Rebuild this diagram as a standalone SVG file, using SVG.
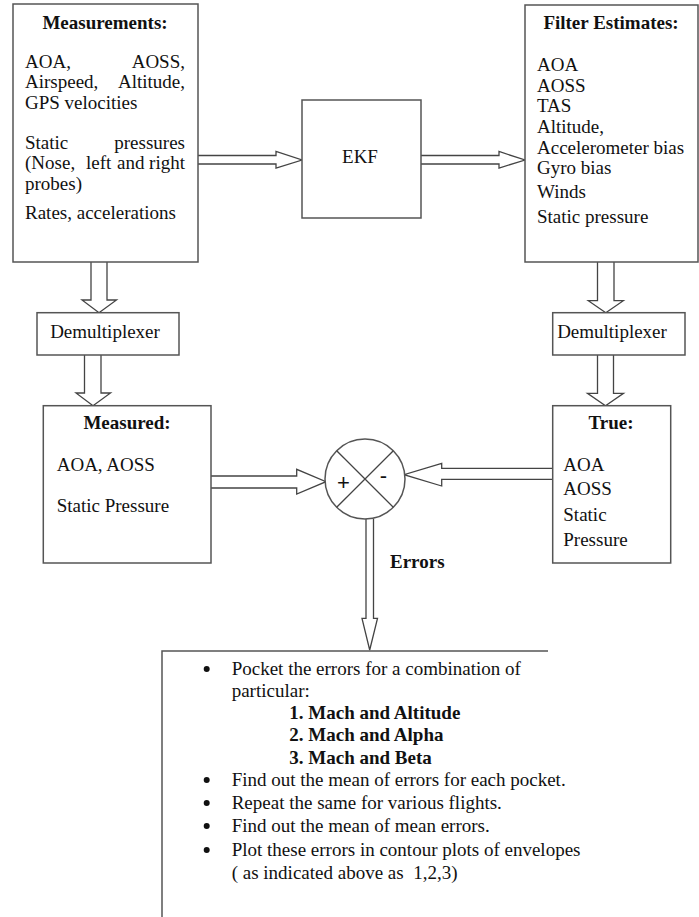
<svg xmlns="http://www.w3.org/2000/svg" width="699" height="917" viewBox="0 0 699 917">
<style>
.box{fill:#fff;stroke:#555;stroke-width:1.5}
.arr{fill:#fff;stroke:#444;stroke-width:1.3;stroke-linejoin:miter}
.ln{fill:none;stroke:#444;stroke-width:1.3}
text{font-family:"Liberation Serif","Times New Roman",serif;font-size:19px;fill:#111}
.b{font-weight:bold}
.c{text-anchor:middle}
.e{text-anchor:end}
.pm{font-family:"Liberation Sans",Arial,sans-serif;font-size:22px}
</style>
<rect width="699" height="917" fill="#fff"/>
<g id="connectors">
<path class="arr" d="M198,155.5 H276 V151.5 L302,160 L276,168 V164 H198"/>
<path class="arr" d="M421,155.5 H499 V151.5 L525,160 L499,168 V164 H421"/>
<path class="arr" d="M91,262 V300 H82 L99,312.7 L116.5,300 H107 V262"/>
<path class="arr" d="M84.5,355 V393 H76 L93,405.7 L110.5,393 H101 V355"/>
<path class="arr" d="M597.5,262 V300.7 H588.3 L605.8,312.7 L623.3,300.7 H614 V262"/>
<path class="arr" d="M597.5,355 V393.3 H587.5 L605.5,405.7 L623.5,393.3 H613.5 V355"/>
<path class="arr" d="M211,476 H296.7 V469.3 L326,481.7 L296.7,494 V488 H211"/>
<path class="arr" d="M552.7,468.3 H441.7 V463.3 L404,474.7 L441.7,486 V479.3 H552.7"/>
<path class="arr" d="M366,519 V618.3 H362 L369.7,650 L377.5,618.3 H373.5 V519"/>
</g>
<g id="measurements">
<rect class="box" x="13" y="4" width="185" height="258"/>
<text class="b c" x="105" y="28.5">Measurements:</text>
<text x="25" y="67.5">AOA,</text><text class="e" x="185" y="67.5">AOSS,</text>
<text x="25" y="88">Airspeed,</text><text class="e" x="185" y="88">Altitude,</text>
<text x="25" y="108.5">GPS velocities</text>
<text x="25" y="148.5">Static</text><text class="e" x="185" y="148.5">pressures</text>
<text x="25" y="169">(Nose,</text><text x="86" y="169">left</text><text x="117" y="169">and</text><text class="e" x="185" y="169">right</text>
<text x="25" y="190">probes)</text>
<text x="25" y="219">Rates, accelerations</text>
</g>
<g id="ekf">
<rect class="box" x="302" y="100" width="119" height="118"/>
<text class="c" x="360" y="163">EKF</text>
</g>
<g id="filter">
<rect class="box" x="525" y="5" width="173" height="257"/>
<text class="b c" x="611" y="29">Filter Estimates:</text>
<text x="537" y="71">AOA</text>
<text x="537" y="92">AOSS</text>
<text x="537" y="112">TAS</text>
<text x="537" y="132.5">Altitude,</text>
<text x="537" y="154">Accelerometer bias</text>
<text x="537" y="174">Gyro bias</text>
<text x="537" y="197.5">Winds</text>
<text x="537" y="223">Static pressure</text>
</g>
<g id="demux-left">
<rect class="box" x="37" y="312.7" width="142" height="42.3"/>
<text class="c" x="105" y="337.5">Demultiplexer</text>
</g>
<g id="demux-right">
<rect class="box" x="552.7" y="312.7" width="132.3" height="42.3"/>
<text class="c" x="612" y="337.5">Demultiplexer</text>
</g>
<g id="measured">
<rect class="box" x="43.3" y="405.7" width="167.7" height="157.3"/>
<text class="b c" x="127" y="429">Measured:</text>
<text x="56.7" y="471">AOA, AOSS</text>
<text x="56.7" y="512">Static Pressure</text>
</g>
<g id="true">
<rect class="box" x="552.7" y="405.7" width="118" height="157.3"/>
<text class="b c" x="611" y="429">True:</text>
<text x="563.3" y="471">AOA</text>
<text x="563.3" y="495">AOSS</text>
<text x="563.3" y="521">Static</text>
<text x="563.3" y="546">Pressure</text>
</g>
<g id="sum">
<circle class="box" cx="365" cy="479" r="40"/>
<path class="ln" d="M336.7,450.7 L393.3,507.3 M393.3,450.7 L336.7,507.3"/>
<text class="c pm" x="343.5" y="490">+</text>
<text class="c pm" x="383.5" y="483">-</text>
</g>
<text id="errors-label" class="b" x="390" y="567.5">Errors</text>
<g id="steps">
<path class="box" d="M162,917 V651 H548"/>
<circle cx="206.7" cy="669" r="3" fill="#111"/>
<text x="231.7" y="675">Pocket the errors for a combination of</text>
<text x="231.7" y="697">particular:</text>
<text class="b" x="289.3" y="719">1. Mach and Altitude</text>
<text class="b" x="289.3" y="741">2. Mach and Alpha</text>
<text class="b" x="289.3" y="763.5">3. Mach and Beta</text>
<circle cx="206.7" cy="780" r="3" fill="#111"/>
<text x="231.7" y="786">Find out the mean of errors for each pocket.</text>
<circle cx="206.7" cy="803" r="3" fill="#111"/>
<text x="231.7" y="809">Repeat the same for various flights.</text>
<circle cx="206.7" cy="826" r="3" fill="#111"/>
<text x="231.7" y="832">Find out the mean of mean errors.</text>
<circle cx="206.7" cy="850" r="3" fill="#111"/>
<text x="231.7" y="856">Plot these errors in contour plots of envelopes</text>
<text x="231.7" y="878.5" style="white-space:pre">( as indicated above as  1,2,3)</text>
</g>
</svg>
